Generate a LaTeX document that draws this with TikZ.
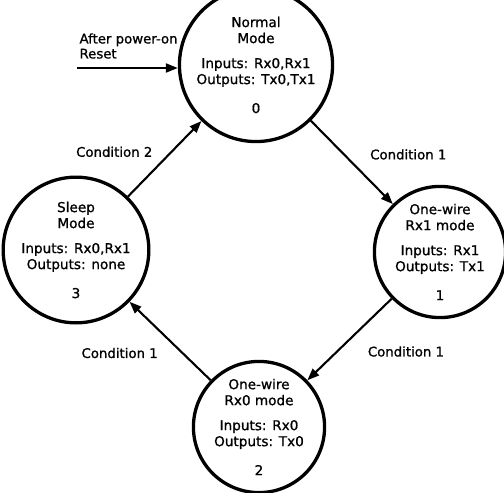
\documentclass[tikz,border=0pt]{standalone}
\usepackage{fontspec}
\setmainfont{DejaVu Sans}[FakeBold=1]
\usepackage{tikz}
\usetikzlibrary{arrows.meta}

\begin{document}
\begin{tikzpicture}[x=1pt,y=-1pt,
  mode/.style={draw,circle,line width=3.3pt,minimum size=125pt,inner sep=0pt,align=center,font=\fontsize{13.6}{16}\selectfont},
  trans/.style={line width=2.1pt,-{Triangle[length=12pt,width=9pt]}},
  cond/.style={font=\fontsize{13.3}{15}\selectfont}]
  \useasboundingbox (0,0) rectangle (504,493);
  % the four modes
  \node[mode] (normal) at (256,65) {Normal\\Mode\\[9pt]Inputs: Rx0,Rx1\\Outputs: Tx0,Tx1\\[13pt]0};
  \node[mode] (rxone) at (440,252) {One-wire\\Rx1 mode\\[9pt]Inputs: Rx1\\Outputs: Tx1\\[13pt]1};
  \node[mode] (rxzero) at (259,427) {One-wire\\Rx0 mode\\[9pt]Inputs: Rx0\\Outputs: Tx0\\[13pt]2};
  \node[mode] (sleep) at (76,250) {Sleep\\Mode\\[9pt]Inputs: Rx0,Rx1\\Outputs: none\\[13pt]3};
  % power-on entry
  \coordinate (reset) at (77,68);
  \node[cond,align=left,anchor=west] (resetlabel) at (76,46) {After power-on\\Reset};
  \draw[trans] (reset) -- (reset -| normal.west);
  % transitions
  \draw[trans] (normal) -- (rxone) node[midway,right,xshift=14pt,yshift=8pt,cond] {Condition 1};
  \draw[trans] (rxone) -- (rxzero) node[midway,right,xshift=14pt,yshift=-12pt,cond] {Condition 1};
  \draw[trans] (rxzero) -- (sleep) node[midway,left,xshift=-8pt,yshift=-12pt,cond] {Condition 1};
  \draw[trans] (sleep) -- (normal) node[midway,left,xshift=-8pt,yshift=7pt,cond] {Condition 2};
\end{tikzpicture}
\end{document}
